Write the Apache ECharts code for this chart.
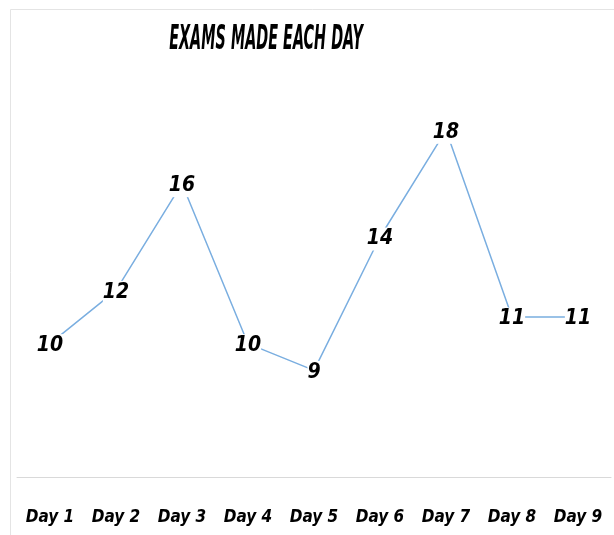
<!DOCTYPE html>
<html>
<head>
<meta charset="utf-8">
<script src="https://cdn.jsdelivr.net/npm/echarts@6/dist/echarts.min.js"></script>
<style>
  html, body { margin: 0; padding: 0; background: #fff; }
  #chart { width: 614px; height: 535px; }
</style>
</head>
<body>
<div id="chart"></div>
<script>
// ---- DATA ----
const days = ['Day 1', 'Day 2', 'Day 3', 'Day 4', 'Day 5', 'Day 6', 'Day 7', 'Day 8', 'Day 9'];
const exams = [10, 12, 16, 10, 9, 14, 18, 11, 11];
const titleText = 'EXAMS MADE EACH DAY';

const FONT = '"DejaVu Sans Condensed", "Liberation Sans Narrow", sans-serif';

const chart = echarts.init(document.getElementById('chart'), null, { renderer: 'canvas' });
chart.setOption({
  backgroundColor: '#fff',
  animation: false,
  graphic: [{
    type: 'rect',
    shape: { x: 10.5, y: 9.5, width: 620, height: 540 },
    style: { fill: 'none', stroke: '#e4e4e4', lineWidth: 1 }
  }, {
    // title, squeezed horizontally like the original condensed face
    type: 'text',
    x: 266, y: 40,
    scaleX: 0.47,
    style: {
      text: titleText, fontFamily: FONT, fontSize: 34, fontWeight: 'bold', fontStyle: 'italic',
      fill: '#000', align: 'center', verticalAlign: 'middle'
    }
  }],
  grid: { left: 17, right: 3, top: 77, bottom: 58 },
  xAxis: {
    type: 'category',
    data: days,
    boundaryGap: true,
    axisLine: { lineStyle: { color: '#d9d9d9', width: 1 } },
    axisTick: { show: false },
    axisLabel: {
      interval: 0, margin: 32, color: '#000', fontFamily: FONT, fontSize: 17,
      fontWeight: 'bold', fontStyle: 'italic'
    }
  },
  yAxis: {
    type: 'value', min: 5, max: 20,
    show: false,
    splitLine: { show: false }
  },
  series: [{
    type: 'line',
    data: exams,
    symbol: 'circle',
    symbolSize: 1,
    itemStyle: { color: 'rgba(0,0,0,0)' },
    lineStyle: { color: '#7aaee0', width: 1.5 },
    label: {
      show: true, position: 'inside', color: '#000', offset: [0, 2],
      fontFamily: FONT, fontSize: 21, fontWeight: 'bold', fontStyle: 'italic',
      backgroundColor: '#fff', padding: [1, 0]
    }
  }]
});
</script>
</body>
</html>
